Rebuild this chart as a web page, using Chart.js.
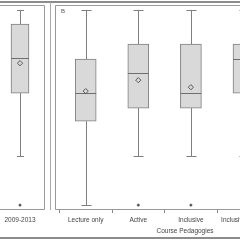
<!DOCTYPE html>
<html><head><meta charset="utf-8">
<script src="https://cdn.jsdelivr.net/npm/chart.js@4"></script>
<style>
html,body{margin:0;padding:0;background:#fff;width:240px;height:240px;overflow:hidden;position:relative;font-family:"Liberation Sans",Arial,sans-serif}
canvas{position:absolute;top:0}
#cA{left:-40px}
#cB{left:0}
.hl{position:absolute;left:0;width:240px;height:2px;background:#8c8c8c}
.vl{position:absolute;width:1px;background:#aaa}
#lbB{position:absolute;left:61px;top:7px;font-size:6px;line-height:8px;color:#555}
</style></head><body>
<canvas id="cA" width="90" height="240"></canvas>
<canvas id="cB" width="320" height="240"></canvas>
<div class="hl" style="top:1px"></div>
<div class="hl" style="top:237px"></div>
<div class="vl" style="left:50px;top:2px;height:208px"></div>
<div id="lbB">B</div>
<script>
// ---- data ----
const catA  = ['2009-2013'];
const minA  = [25];
const q1A   = [57.4];
const medA  = [75.3];
const q3A   = [92.7];
const maxA  = [100];
const meanA = [72.7];
const outA  = [0];

const catB  = ['Lecture only', 'Active', 'Inclusive', 'Inclusive Active'];
const minB  = [0, 25, 25, 25];
const q1B   = [43, 49.7, 49.7, 57.4];
const medB  = [57.4, 67.6, 57.4, 74.8];
const q3B   = [74.8, 82.5, 82.5, 82.5];
const maxB  = [100, 100, 100, 100];
const meanB = [58.4, 64, 60.4, 70];
const outB  = [null, 0, 0, 0];

const FONT = '"Liberation Sans", Arial, sans-serif';

function makeChart(id, cats, mins, q1s, meds, q3s, maxs, means, outs, opt) {
  const boxes = cats.map((c, i) => ({x: i, y: [q1s[i], q3s[i]]}));
  const meanPts = cats.map((c, i) => ({x: i, y: means[i]}));
  const outPts = cats.map((c, i) => outs[i] == null ? null : ({x: i, y: outs[i]})).filter(Boolean);

  const boxPlugin = {
    id: 'boxLines',
    beforeDatasetsDraw(chart) {
      const {ctx, chartArea: a, scales: {x, y}} = chart;
      ctx.save();
      ctx.lineWidth = 1;
      ctx.strokeStyle = '#999';
      const L = Math.round(a.left) + 0.5, T = Math.round(a.top) + 0.5,
            R = Math.round(a.right) - 0.5, B = Math.round(a.bottom) - 0.5;
      ctx.beginPath();
      ctx.moveTo(L, T); ctx.lineTo(R, T); ctx.lineTo(R, B); ctx.lineTo(L, B); ctx.closePath();
      ctx.stroke();
      ctx.strokeStyle = '#7f7f7f';
      const half = opt.cap / 2;
      cats.forEach((c, i) => {
        const cx = Math.round(x.getPixelForValue(i)) + 0.5;
        const seg = (v1, v2) => {
          ctx.beginPath();
          ctx.moveTo(cx, y.getPixelForValue(v1));
          ctx.lineTo(cx, y.getPixelForValue(v2));
          ctx.stroke();
        };
        seg(q3s[i], maxs[i]);
        seg(q1s[i], mins[i]);
        [maxs[i], mins[i]].forEach(v => {
          const py = Math.round(y.getPixelForValue(v)) + 0.5;
          ctx.beginPath();
          ctx.moveTo(cx - half, py); ctx.lineTo(cx + half, py);
          ctx.stroke();
        });
      });
      ctx.restore();
    },
    afterDatasetDraw(chart, args) {
      if (args.index !== 0) return;
      const {ctx, scales: {x, y}} = chart;
      ctx.save();
      ctx.lineWidth = 1;
      ctx.strokeStyle = '#6f6f6f';
      cats.forEach((c, i) => {
        const cx = x.getPixelForValue(i);
        const py = Math.round(y.getPixelForValue(meds[i])) + 0.5;
        ctx.beginPath();
        ctx.moveTo(cx - opt.bw / 2, py); ctx.lineTo(cx + opt.bw / 2, py);
        ctx.stroke();
      });
      ctx.restore();
    }
  };

  const chart = new Chart(document.getElementById(id), {
    type: 'bar',
    data: {datasets: [
      {type: 'bar', order: 3, data: boxes, backgroundColor: '#d9d9d9', borderColor: '#7f7f7f',
       borderWidth: 1, borderSkipped: false, barThickness: opt.bw},
      {type: 'scatter', order: 2, data: meanPts, pointStyle: 'rectRot', pointRadius: 2.6,
       pointBorderWidth: 1, pointBorderColor: '#5a5a5a', pointBackgroundColor: 'rgba(0,0,0,0)',
       borderColor: '#5a5a5a', backgroundColor: 'rgba(0,0,0,0)'},
      {type: 'scatter', order: 1, data: outPts, pointStyle: 'circle', pointRadius: 1.2,
       pointBorderWidth: 0.5, pointBorderColor: '#555', pointBackgroundColor: '#555',
       borderColor: '#555', backgroundColor: '#555'}
    ]},
    options: {
      responsive: false, animation: false, devicePixelRatio: 1,
      layout: {padding: Object.assign({}, opt.pad)},
      plugins: {legend: {display: false}, tooltip: {enabled: false}},
      events: [],
      scales: {
        x: {
          type: 'linear', min: -1, max: cats.length, offset: false,
          afterBuildTicks: s => { s.ticks = cats.map((c, i) => ({value: i})); },
          ticks: {callback: v => cats[v], autoSkip: false, maxRotation: 0, padding: 3,
                  color: '#444', font: {family: FONT, size: 6.5, lineHeight: '8px'}},
          grid: {display: true, drawOnChartArea: false, drawTicks: true, tickLength: 3, color: '#888'},
          border: {display: false},
          title: opt.title ? {display: true, text: opt.title, color: '#444',
                  padding: {top: 0, bottom: 2}, font: {family: FONT, size: 6.5, lineHeight: '8px'}}
                 : {display: false}
        },
        y: {display: false, min: -2.5, max: 102.5}
      }
    },
    plugins: [boxPlugin]
  });

  // align plot area & category positions to the target layout (canvas coordinates)
  const t = opt.target;
  for (let k = 0; k < 3; k++) {
    const a = chart.chartArea;
    const p = chart.options.layout.padding;
    const np = {left: p.left + (t.left - a.left), right: p.right,
                top: p.top + (t.top - a.top), bottom: p.bottom + (a.bottom - t.bottom)};
    chart.options.layout.padding = np;
    const xmin = -(t.p0 - t.left) / t.sp;
    chart.options.scales.x.min = xmin;
    chart.options.scales.x.max = xmin + (a.right - a.left) / t.sp;
    chart.update('none');
  }
  return chart;
}

// Left panel: canvas at page x -40 -> chart area page -20..48, category at page x 20
makeChart('cA', catA, minA, q1A, medA, q3A, maxA, meanA, outA,
  {bw: 18, cap: 7, pad: {left: 20, right: 2, top: 5, bottom: 16},
   target: {left: 20, top: 5, bottom: 210, p0: 60, sp: 40}});

// Right panel: chart area from page x 55, categories every 52.6 px from x 85.7
makeChart('cB', catB, minB, q1B, medB, q3B, maxB, meanB, outB,
  {bw: 21, cap: 10, pad: {left: 55, right: 0, top: 5, bottom: 5},
   target: {left: 55, top: 5, bottom: 210, p0: 85.7, sp: 52.6},
   title: 'Course Pedagogies'});
</script>
</body></html>
